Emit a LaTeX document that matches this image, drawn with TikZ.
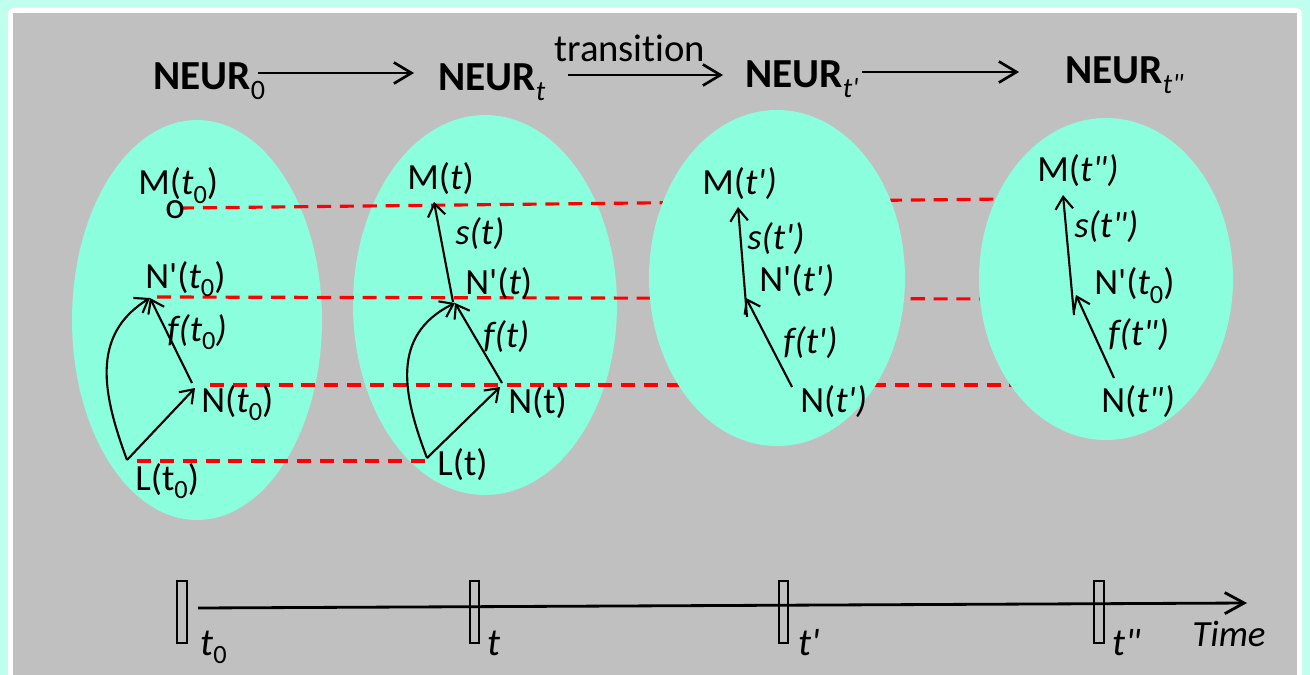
\documentclass[tikz,border=0pt]{standalone}
\usepackage{fontspec}
\setmainfont{Carlito}[Ligatures={TeX,NoCommon}]
\usetikzlibrary{arrows.meta}
\definecolor{bggray}{RGB}{192,192,192}
\definecolor{frameaqua}{RGB}{192,255,238}
\definecolor{ellaqua}{RGB}{139,255,221}
\newcommand{\sbs}[1]{\raisebox{-0.22em}{\fontsize{15}{15}\selectfont\upshape #1}}
\newcommand{\tsb}[1]{\raisebox{-0.24em}{\fontsize{16}{16}\selectfont\mdseries #1}}
\newcommand{\pr}{\textquotesingle}
\newcommand{\dpr}{\textquotedbl}
\begin{document}
\begin{tikzpicture}[x=0.02cm,y=-0.02cm,
  lbl/.style={anchor=base west, inner sep=0pt, font=\fontsize{21}{25}\selectfont},
  head/.style={anchor=base west, inner sep=0pt, font=\fontsize{23.5}{28}\selectfont\bfseries},
  reddash/.style={draw=red, line width=1.8pt, dash pattern=on 8pt off 5pt},
  arr/.style={line width=1.2pt, -{Straight Barb[length=7pt,width=10pt]}},
  bigarr/.style={line width=1.5pt, -{Straight Barb[length=10pt,width=12pt]}},
  ticker/.style={draw=black, line width=0.6pt},
]
\useasboundingbox (0,0) rectangle (1310,675);
% frame
\fill[frameaqua] (0,0) rectangle (1310,675);
\fill[white, rounded corners=3pt] (8,8) rectangle (1302,690);
\fill[bggray] (13,13) rectangle (1297,675);

% first two ellipses
\fill[ellaqua] (197,320) ellipse [x radius=2.5cm, y radius=4cm];
\fill[ellaqua] (485,305) ellipse [x radius=2.64cm, y radius=3.8cm];

% dashed lines
\coordinate (dA0) at (180,208); \coordinate (dA1) at (1005,199);
\coordinate (dB0) at (157,297); \coordinate (dB1) at (1005,299);
\coordinate (dC0) at (210,385); \coordinate (dC1) at (1020,385);
\coordinate (dD0) at (137,461); \coordinate (dD1) at (428,461);
\draw[reddash] (dA0) -- (dA1);
\draw[reddash] (dB0) -- (dB1);
\draw[reddash] (dC0) -- (dC1);
\draw[reddash] (dD0) -- (dD1);

% last two ellipses
\fill[ellaqua] (777,278) ellipse [x radius=2.56cm, y radius=3.36cm];
\fill[ellaqua] (1106,279) ellipse [x radius=2.54cm, y radius=3.22cm];

% top row
\node[head] (n0) at (153,90) {NEUR\tsb{0}};
\node[head] (nt) at (438,91) {NEUR\tsb{\itshape t}};
\node[head] (nt1) at (745,88) {NEUR\tsb{\itshape t\pr}};
\node[head] (nt2) at (1065,84) {NEUR\tsb{\itshape t\dpr}};
\node[anchor=base west, inner sep=0pt, font=\fontsize{22}{26}\selectfont] (tr) at (554,62) {transition};
\coordinate (a0s) at (258,73); \coordinate (a0e) at (414,73);
\coordinate (a1s) at (568,75); \coordinate (a1e) at (723,75);
\coordinate (a2s) at (862,72); \coordinate (a2e) at (1019,72);
\draw[bigarr] (a0s) -- (a0e);
\draw[bigarr] (a1s) -- (a1e);
\draw[bigarr] (a2s) -- (a2e);

% ellipse 1
\node[lbl] (m0) at (138,195) {M(\textit{t}\sbs{0})};
\node[lbl] (o0) at (165,219) {o};
\node[lbl] (np0) at (145,288) {N\pr(\textit{t}\sbs{0})};
\node[lbl] (f0) at (167,341) {\textit{f(t}\sbs{0}\textit{)}};
\node[lbl] (nn0) at (201,412) {N(\textit{t}\sbs{0})};
\node[lbl] (l0) at (135,490) {L(t\sbs{0})};
\coordinate (L0) at (127,460);
\coordinate (N0) at (195,388);
\coordinate (N0b) at (192,383);
\coordinate (NP0) at (150,298);
\draw[arr] (L0) -- (N0);
\draw[arr] (L0) .. controls (103,395) and (90,335) .. (NP0);
\draw[arr] (N0b) -- (NP0);

% ellipse 2
\node[lbl] (m1) at (407,190) {M(\textit{t})};
\node[lbl] (s1) at (455,245) {\textit{s(t)}};
\node[lbl] (np1) at (465,295) {N\pr(\textit{t})};
\node[lbl] (f1) at (483,347) {\textit{f(t)}};
\node[lbl] (nn1) at (508,413) {N(t)};
\node[lbl] (l1) at (437,475) {L(t)};
\coordinate (L1) at (427,458);
\coordinate (N1) at (500,387);
\coordinate (N1b) at (502,383);
\coordinate (NP1) at (455,303);
\coordinate (NP1b) at (453,302);
\coordinate (M1) at (434,202);
\draw[arr] (L1) -- (N1);
\draw[arr] (L1) .. controls (403,395) and (390,335) .. (NP1);
\draw[arr] (N1b) -- (NP1);
\draw[arr] (NP1b) -- (M1);

% ellipse 3
\node[lbl] (m2) at (702,195) {M(\textit{t\pr)}};
\node[lbl] (s2) at (747,250) {\textit{s(t\pr)}};
\node[lbl] (np2) at (759,292) {N\pr(\textit{t\pr)}};
\node[lbl] (f2) at (783,353) {\textit{f(t\pr)}};
\node[lbl] (nn2) at (800,412) {N(\textit{t\pr)}};
\coordinate (N2) at (792,387);
\coordinate (NP2) at (746,298);
\coordinate (NP2b) at (747,317);
\coordinate (M2) at (738,207);
\draw[arr] (N2) -- (NP2);
\draw[arr] (NP2b) -- (M2);

% ellipse 4
\node[lbl] (m3) at (1037,182) {M(\textit{t\dpr)}};
\node[lbl] (s3) at (1074,238) {\textit{s(t\dpr)}};
\node[lbl] (np3) at (1094,295) {N\pr(\textit{t}\sbs{0})};
\node[lbl] (f3) at (1108,345) {\textit{f(t\dpr)}};
\node[lbl] (nn3) at (1101,412) {N(\textit{t\dpr)}};
\coordinate (N3) at (1114,378);
\coordinate (NP3) at (1076,295);
\coordinate (NP3b) at (1074,315);
\coordinate (M3) at (1063,195);
\draw[arr] (N3) -- (NP3);
\draw[arr] (NP3b) -- (M3);

% time axis
\coordinate (ax0) at (198,608);
\coordinate (ax1) at (1247,603);
\draw[line width=1.6pt, -{Straight Barb[length=11pt,width=12pt]}] (ax0) -- (ax1);
\draw[ticker] (177,581) rectangle (187,643);
\draw[ticker] (470,581) rectangle (479,643);
\draw[ticker] (779,581) rectangle (788,643);
\draw[ticker] (1094,581) rectangle (1104,643);
\node[lbl, font=\fontsize{22}{26}\selectfont] (tl0) at (200,655) {\textit{t}\sbs{0}};
\node[lbl, font=\fontsize{22}{26}\selectfont] (tl1) at (487,655) {\textit{t}};
\node[lbl, font=\fontsize{22}{26}\selectfont] (tl2) at (798,655) {\textit{t\pr}};
\node[lbl, font=\fontsize{22}{26}\selectfont] (tl3) at (1112,655) {\textit{t\dpr}};
\node[lbl] (time) at (1192,646) {\textit{Time}};
\end{tikzpicture}
\end{document}
